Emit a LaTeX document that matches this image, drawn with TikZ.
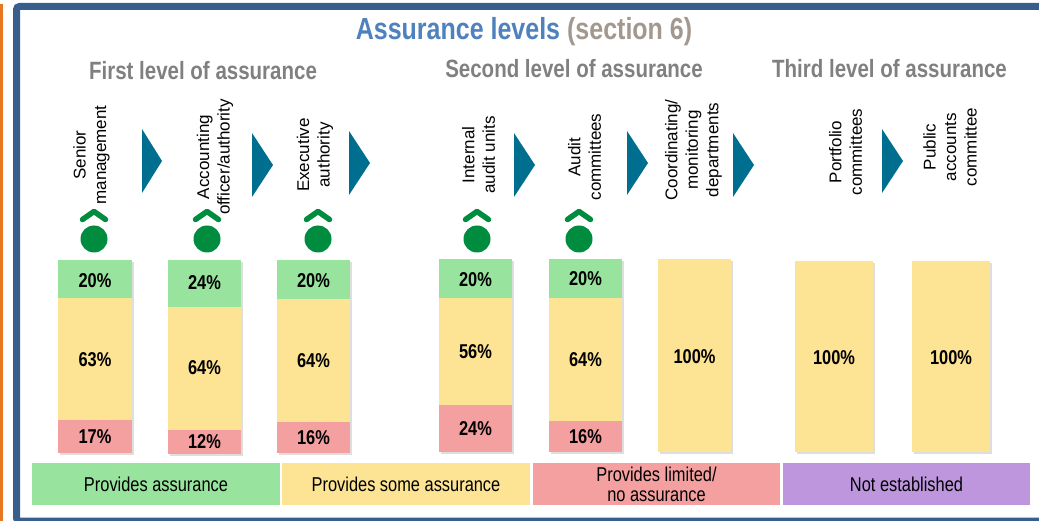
\documentclass[tikz,border=0pt]{standalone}
\usepackage{fontspec}
\setmainfont{Liberation Sans}
\newfontfamily\narrow[FakeStretch=0.82]{Liberation Sans}
\definecolor{frameblue}{RGB}{56,94,142}
\definecolor{edgeorange}{RGB}{232,119,34}
\definecolor{titleblue}{RGB}{79,129,189}
\definecolor{sectgray}{RGB}{163,152,142}
\definecolor{headgray}{RGB}{128,128,128}
\definecolor{chevteal}{RGB}{0,110,143}
\definecolor{markgreen}{RGB}{0,140,62}
\definecolor{cgreen}{RGB}{152,228,158}
\definecolor{cyellow}{RGB}{253,227,148}
\definecolor{cred}{RGB}{245,160,160}
\definecolor{cpurple}{RGB}{190,150,222}
\begin{document}
\begin{tikzpicture}[x=1pt,y=-1pt,
  pct/.style={font=\narrow\bfseries\fontsize{20}{20}\selectfont, inner sep=0pt},
  collabel/.style={rotate=90, align=center, font=\fontsize{17}{20.5}\selectfont, inner sep=0pt},
  heading/.style={font=\narrow\bfseries\fontsize{25}{25}\selectfont, text=headgray, inner sep=0pt},
  legendbox/.style={font=\narrow\fontsize{20}{20}\selectfont, inner sep=0pt, align=center, minimum height=42pt},
  chevron/.style={fill=chevteal},
  barshadow/.style={fill=black!13},
  markdot/.style={circle, fill=markgreen, minimum size=27pt, inner sep=0pt},
  markcaret/.style={draw=markgreen, line width=5.5pt, line cap=round, line join=round}
]
\useasboundingbox (0,0) rectangle (1039,521);
% frame
\fill[edgeorange] (0,4) rectangle (2.7,521);
\draw[frameblue, line width=7pt, rounded corners=3pt] (16.5,6.5) rectangle (1060,521);
% titles
\node[inner sep=0pt, font=\narrow\bfseries\fontsize{30.5}{30.5}\selectfont] (title) at (524,31.5)
  {\textcolor{titleblue}{Assurance levels} \textcolor{sectgray}{(section 6)}};
\node[heading] (h1) at (203,71) {First level of assurance};
\node[heading] (h2) at (574,69) {Second level of assurance};
\node[heading] (h3) at (889.5,69) {Third level of assurance};
% column labels
\node[collabel] (l1) at (91.5,155) {Senior\\management};
\node[collabel] (l2) at (215,157) {Accounting\\officer/authority};
\node[collabel] (l3) at (315,155) {Executive\\authority};
\node[collabel] (l4) at (478.5,155) {Internal\\audit units};
\node[collabel] (l5) at (584.5,157) {Audit\\committees};
\node[collabel] (l6) at (693.5,150) {Coordinating/\\monitoring\\departments};
\node[collabel] (l7) at (845.5,152) {Portfolio\\committees};
\node[collabel] (l8) at (950,147) {Public\\accounts\\committee};
% chevrons
\fill[chevron] (142,129) -- (162,161) -- (142,193) -- cycle;
\fill[chevron] (252,133) -- (273,165) -- (252,197) -- cycle;
\fill[chevron] (349,131) -- (370,163) -- (349,195) -- cycle;
\fill[chevron] (514,133) -- (535,165) -- (514,197) -- cycle;
\fill[chevron] (627,131) -- (648,163) -- (627,195) -- cycle;
\fill[chevron] (733,133) -- (754,165) -- (733,197) -- cycle;
\fill[chevron] (882,129) -- (903,161) -- (882,193) -- cycle;
% markers
\foreach \mx [count=\i] in {94,207,318,477,579}{
  \draw[markcaret] (\mx-11.5,219.5) -- (\mx,211.5) -- (\mx+11.5,219.5);
  \node[markdot] (m\i) at (\mx,239) {};
}
% bars
\fill[barshadow] (60,262) rectangle (134,455);
\fill[cgreen] (58,260) rectangle (132,298);
\fill[cyellow] (58,298) rectangle (132,420);
\fill[cred] (58,420) rectangle (132,453);
\node[pct] (b1g) at (95,281) {20\%};
\node[pct] (b1y) at (95,360) {63\%};
\node[pct] (b1r) at (95,437) {17\%};

\fill[barshadow] (170,262) rectangle (243,456);
\fill[cgreen] (168,260) rectangle (241,307);
\fill[cyellow] (168,307) rectangle (241,430);
\fill[cred] (168,430) rectangle (241,454);
\node[pct] (b2g) at (204.5,283) {24\%};
\node[pct] (b2y) at (204.5,368) {64\%};
\node[pct] (b2r) at (204.5,442) {12\%};

\fill[barshadow] (279,262) rectangle (352,455);
\fill[cgreen] (277,260) rectangle (350,299);
\fill[cyellow] (277,299) rectangle (350,422);
\fill[cred] (277,422) rectangle (350,453);
\node[pct] (b3g) at (313.5,281) {20\%};
\node[pct] (b3y) at (313.5,361) {64\%};
\node[pct] (b3r) at (313.5,438) {16\%};

\fill[barshadow] (441,261) rectangle (514,454);
\fill[cgreen] (439,259) rectangle (512,298);
\fill[cyellow] (439,298) rectangle (512,405);
\fill[cred] (439,405) rectangle (512,452);
\node[pct] (b4g) at (475.5,280) {20\%};
\node[pct] (b4y) at (475.5,352) {56\%};
\node[pct] (b4r) at (475.5,429) {24\%};

\fill[barshadow] (551,261) rectangle (624,454);
\fill[cgreen] (549,259) rectangle (622,298);
\fill[cyellow] (549,298) rectangle (622,421);
\fill[cred] (549,421) rectangle (622,452);
\node[pct] (b5g) at (585.5,279) {20\%};
\node[pct] (b5y) at (585.5,360) {64\%};
\node[pct] (b5r) at (585.5,437) {16\%};

\fill[barshadow] (660,261) rectangle (733,454);
\fill[cyellow] (658,259) rectangle (731,452);
\node[pct] (b6y) at (694.5,357) {100\%};

\fill[barshadow] (797,263) rectangle (875,454);
\fill[cyellow] (795,261) rectangle (873,452);
\node[pct] (b7y) at (834,358) {100\%};

\fill[barshadow] (914,263) rectangle (992,454);
\fill[cyellow] (912,261) rectangle (990,452);
\node[pct] (b8y) at (951,358) {100\%};
% legend
\node[legendbox, fill=cgreen, minimum width=248pt] (lg) at (156,484) {Provides assurance};
\node[legendbox, fill=cyellow, minimum width=248pt] (ly) at (406,484) {Provides some assurance};
\node[legendbox, fill=cred, minimum width=247pt] (lr) at (656.5,484) {Provides limited/\\no assurance};
\node[legendbox, fill=cpurple, minimum width=247pt] (lp) at (906.5,484) {Not established};
\end{tikzpicture}
\end{document}
